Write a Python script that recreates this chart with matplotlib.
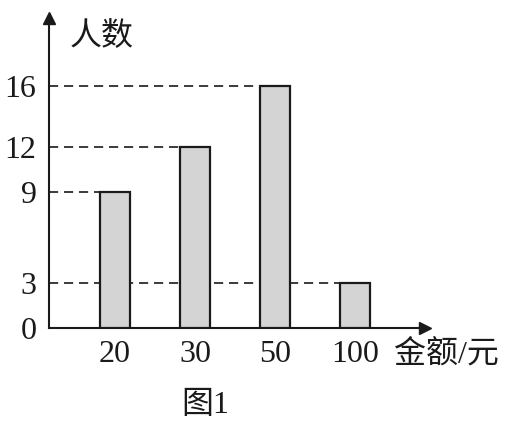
import matplotlib.pyplot as plt

plt.rcParams['font.family'] = ['Liberation Serif', 'Noto Sans CJK SC']

categories = ['20', '30', '50', '100']
counts = [9, 12, 16, 3]
y_ticks = [0, 3, 9, 12, 16]

W, H = 510, 424
fig = plt.figure(figsize=(W / 100, H / 100), dpi=100)

# axes box: y axis at x=49px, x axis at y=328px, arrows end at 425px / 18px
ax = fig.add_axes([49 / W, (H - 328) / H, (425 - 49) / W, (328 - 18) / H])
xs = list(range(len(categories)))
ax.set_xlim(-0.825, 3.875)
ax.set_ylim(0, 310 / 15.1)

bw = 0.375
ax.bar(xs, counts, width=bw, color='#d4d4d4', edgecolor='#1a1a1a', linewidth=1.6, zorder=3)

# dashed guide lines from the y axis to the left edge of each bar
for x, c in zip(xs, counts):
    ax.plot([-0.825, x - bw / 2], [c, c], ls=(0, (5.5, 3.5)), color='#1a1a1a', lw=1.2, zorder=2)

for s in ['top', 'right']:
    ax.spines[s].set_visible(False)
for s in ['left', 'bottom']:
    ax.spines[s].set_linewidth(1.5)
    ax.spines[s].set_color('#1a1a1a')

# arrow heads
ax.plot(1, 0, '>', transform=ax.transAxes, clip_on=False, color='#1a1a1a', ms=8)
ax.plot(0, 1, '^', transform=ax.transAxes, clip_on=False, color='#1a1a1a', ms=8)

ax.set_xticks(xs, categories)
ax.set_yticks(y_ticks, [str(v) for v in y_ticks])
ax.tick_params(axis='both', length=0, labelsize=23, colors='#1a1a1a')
ax.tick_params(axis='x', pad=9)
ax.tick_params(axis='y', pad=9)

fig.text(70 / W, 1 - 37 / H, '人数', fontsize=23, va='center', ha='left', color='#1a1a1a')
fig.text(394 / W, 1 - 355 / H, '金额/元', fontsize=23, va='center', ha='left', color='#1a1a1a')
fig.text(205 / W, 1 - 405 / H, '图1', fontsize=23, va='center', ha='center', color='#1a1a1a')

fig.savefig('out.png', dpi=100)
